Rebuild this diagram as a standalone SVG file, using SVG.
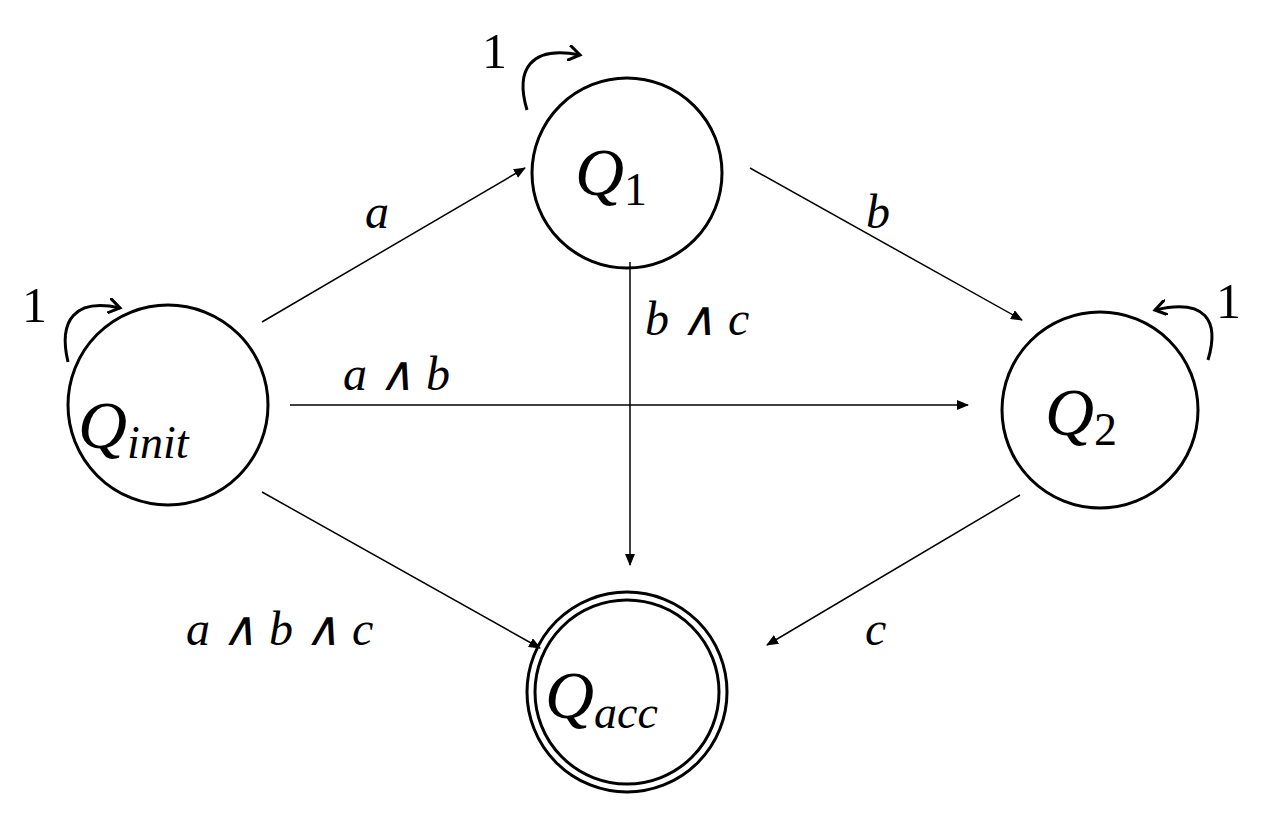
<svg xmlns="http://www.w3.org/2000/svg" width="1274" height="832" viewBox="0 0 1274 832">
<style>
.n{fill:none;stroke:#000;stroke-width:3}
.e{fill:none;stroke:#000;stroke-width:1.5}
.l{fill:none;stroke:#000;stroke-width:3}
.t{font-family:"Liberation Serif",serif;font-style:italic;font-size:48px}
.q{font-family:"Liberation Serif",serif;font-style:italic;font-size:68px}
.s{font-size:46px}
.u{font-style:normal}
.one{font-family:"Liberation Serif",serif;font-size:50px}
</style>
<defs>
<marker id="a" markerWidth="12" markerHeight="10" refX="11" refY="5" orient="auto" markerUnits="userSpaceOnUse"><path d="M0,0 L12,5 L0,10 z"/></marker>
<marker id="o" markerWidth="16" markerHeight="16" refX="12" refY="8" orient="auto" markerUnits="userSpaceOnUse"><path d="M0,0 L12,8 L0,16" fill="none" stroke="#000" stroke-width="3"/></marker>
</defs>
<rect width="1274" height="832" fill="#fff"/>
<g id="qinit"><circle class="n" cx="168" cy="405" r="100"/><text class="q" x="78" y="448">Q<tspan class="s" dy="10">init</tspan></text></g>
<g id="q1"><circle class="n" cx="627" cy="173" r="95"/><text class="q" x="575" y="195">Q<tspan class="s u" dy="10">1</tspan></text></g>
<g id="q2"><circle class="n" cx="1100" cy="410" r="98"/><text class="q" x="1045" y="435">Q<tspan class="s u" dy="10">2</tspan></text></g>
<g id="qacc"><circle class="n" cx="627" cy="692" r="100"/><circle class="n" cx="627" cy="692" r="92"/><text class="q" x="545" y="718">Q<tspan class="s" dy="10">acc</tspan></text></g>
<g id="edges">
<line class="e" x1="262" y1="322" x2="525" y2="168" marker-end="url(#a)"/>
<line class="e" x1="750" y1="168" x2="1022" y2="320" marker-end="url(#a)"/>
<line class="e" x1="630" y1="262" x2="630" y2="565" marker-end="url(#a)"/>
<line class="e" x1="290" y1="405" x2="968" y2="405" marker-end="url(#a)"/>
<line class="e" x1="262" y1="492" x2="540" y2="648" marker-end="url(#a)"/>
<line class="e" x1="1020" y1="495" x2="767" y2="645" marker-end="url(#a)"/>
<path class="l" d="M68,362 C58,320 75,298 120,308" marker-end="url(#o)"/>
<path class="l" d="M527,110 C515,70 530,45 580,55" marker-end="url(#o)"/>
<path class="l" d="M1208,360 C1220,320 1205,298 1155,310" marker-end="url(#o)"/>
<text class="t" x="365" y="228">a</text>
<text class="t" x="866" y="228">b</text>
<text class="t" x="645" y="335">b ∧ c</text>
<text class="t" x="343" y="390">a ∧ b</text>
<text class="t" x="186" y="645">a ∧ b ∧ c</text>
<text class="t" x="865" y="645">c</text>
<text class="one" x="22" y="322">1</text>
<text class="one" x="482" y="68">1</text>
<text class="one" x="1216" y="318">1</text>
</g>
</svg>
